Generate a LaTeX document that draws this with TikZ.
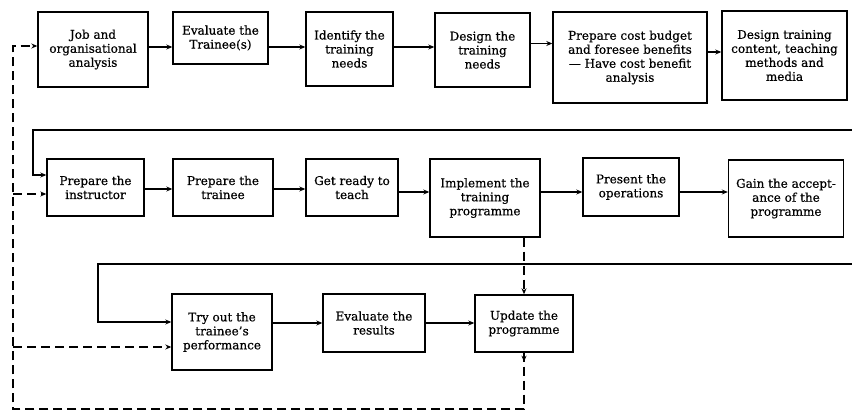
\documentclass[tikz,border=0pt]{standalone}
\usepackage{fontspec}
\setmainfont{DejaVu Serif}[FakeBold=0.6]
\usetikzlibrary{arrows.meta,decorations.markings}
\begin{document}
\begin{tikzpicture}[x=1pt,y=-1pt,
  box/.style={draw, line width=1.4pt, align=center, inner sep=1pt,
    font=\fontsize{12}{14}\selectfont},
  flow/.style={line width=1.2pt, -{Stealth[length=6pt,width=5pt]}},
  back/.style={flow, dash pattern=on 9pt off 5pt},
  downtip/.style={postaction={decorate}, decoration={markings,
    mark=at position 9pt with {\arrow{Stealth[length=6pt,width=5pt]}}}}]
\useasboundingbox (0,0) rectangle (852,412);

% first row
\node[box, minimum width=110pt, minimum height=75pt] (b1) at (93,49.5) {Job and\\organisational\\analysis};
\node[box, minimum width=95pt, minimum height=52pt] (b2) at (220.5,38) {Evaluate the\\Trainee(s)};
\node[box, minimum width=87pt, minimum height=74pt] (b3) at (349.5,49) {Identify the\\training\\needs};
\node[box, minimum width=95pt, minimum height=74pt] (b4) at (482.5,50) {Design the\\training\\needs};
\node[box, minimum width=154pt, minimum height=91pt] (b5) at (630,57.5) {Prepare cost budget\\and foresee benefits\\— Have cost benefit\\analysis};
\node[box, minimum width=125pt, minimum height=89pt] (b6) at (784.5,55.5) {Design training\\content, teaching\\methods and\\media};

% second row
\node[box, minimum width=97pt, minimum height=57pt] (b7) at (95.5,187.5) {Prepare the\\instructor};
\node[box, minimum width=100pt, minimum height=57pt] (b8) at (223,187.5) {Prepare the\\trainee};
\node[box, minimum width=92pt, minimum height=57pt] (b9) at (352,187.5) {Get ready to\\teach};
\node[box, minimum width=110pt, minimum height=78pt] (b10) at (485,198) {Implement the\\training\\programme};
\node[box, minimum width=96pt, minimum height=58pt] (b11) at (631,187) {Present the\\operations};
\node[box, minimum width=115pt, minimum height=77pt] (b12) at (786,198.5) {Gain the accept-\\ance of the\\programme};

% third row
\node[box, minimum width=100pt, minimum height=76pt] (b14) at (222,332) {Try out the\\trainee's\\performance};
\node[box, minimum width=102pt, minimum height=58pt] (b15) at (374,323) {Evaluate the\\results};
\node[box, minimum width=98pt, minimum height=57pt] (b13) at (524,323.5) {Update the\\programme};

% levels of the horizontal connectors
\coordinate (h1) at (0,47);
\coordinate (h2) at (0,43.5);
\coordinate (h3) at (0,52);
\coordinate (h4) at (0,189);
\coordinate (h5) at (0,192);
\coordinate (h6) at (0,323);

% first row connectors
\draw[flow] (b1.east |- h1) -- (b2.west |- h1);
\draw[flow] (b2.east |- h1) -- (b3.west |- h1);
\draw[flow] (b3.east |- h1) -- (b4.west |- h1);
\draw[flow] (b4.east |- h2) -- (b5.west |- h2);
\draw[flow] (b5.east |- h3) -- (b6.west |- h3);

% second row connectors
\draw[flow] (b7.east |- h4) -- (b8.west |- h4);
\draw[flow] (b8.east |- h4) -- (b9.west |- h4);
\draw[flow] (b9.east |- h5) -- (b10.west |- h5);
\draw[flow] (b10.east |- h5) -- (b11.west |- h5);
\draw[flow] (b11.east |- h5) -- (b12.west |- h5);

% third row connectors
\draw[flow] (b14.east |- h6) -- (b15.west |- h6);
\draw[flow] (b15.east |- h6) -- (b13.west |- h6);

% returns from the right margin to the start of the next row
\coordinate (r1) at (852,130);
\coordinate (k1) at (33,130);
\coordinate (in7) at (0,175);
\draw[flow] (r1) -- (k1) |- (b7.west |- in7);

\coordinate (r2) at (852,264);
\coordinate (k2) at (98,264);
\coordinate (in14) at (0,322);
\draw[flow] (r2) -- (k2) |- (b14.west |- in14);

% dashed feedback paths
\draw[back] (b10.south -| b13.north) -- (b13.north);

\coordinate (fb) at (13,409);
\coordinate (in1) at (0,46);
\coordinate (in7b) at (0,194);
\coordinate (in14b) at (0,347);
\draw[back, downtip] (b13.south) -- (b13.south |- fb) -- (fb) -- (fb |- in1) -- (b1.west |- in1);
\draw[back] (fb |- in7b) -- (b7.west |- in7b);
\draw[back] (fb |- in14b) -- (b14.west |- in14b);
\end{tikzpicture}
\end{document}
